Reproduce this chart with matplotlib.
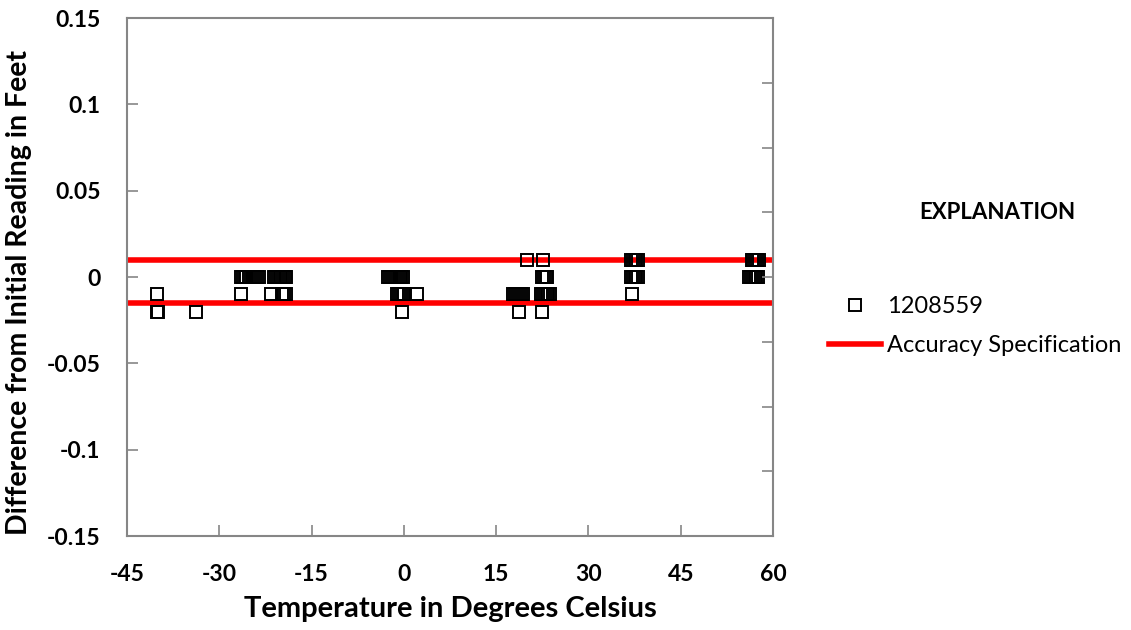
import matplotlib
matplotlib.use("Agg")
import matplotlib.pyplot as plt

plt.rcParams['font.family'] = ['Lato', 'DejaVu Sans']

# temperature (deg C) and difference from initial reading (feet)
TEMPS = [
    -40.2, -40.2, -40.0, -33.8,
    -26.5, -26.2, -25.9, -25.6, -25.2, -24.9, -24.5, -24.2, -23.9, -23.6,
    -26.5, -21.6,
    -21.1, -20.8, -20.5, -20.2, -19.9, -19.6, -19.3, -19.1,
    -19.8, -19.5, -19.2,
    -2.5, -2.2, -1.9, -1.6, -1.3, -1.0, -0.7, -0.4, -0.2,
    -1.1, -0.8, -0.5, -0.2, 0.1, 2.1, -0.35,
    17.8, 18.1, 18.4, 18.7, 19.0, 19.3, 18.7, 20.0,
    22.3, 22.6, 22.9, 23.2, 23.5, 23.8, 22.5,
    22.5, 22.8, 23.1, 23.3, 22.6,
    36.9, 37.2, 37.5, 37.8, 38.1,
    36.9, 37.2, 37.5, 37.8, 38.1, 37.0,
    56.5, 56.8, 57.1, 57.4, 57.7,
    56.1, 56.4, 56.7, 57.0, 57.3, 57.6,
]
DIFFS = [
    -0.01, -0.02, -0.02, -0.02,
    0, 0, 0, 0, 0, 0, 0, 0, 0, 0,
    -0.01, -0.01,
    0, 0, 0, 0, 0, 0, 0, 0,
    -0.01, -0.01, -0.01,
    0, 0, 0, 0, 0, 0, 0, 0, 0,
    -0.01, -0.01, -0.01, -0.01, -0.01, -0.01, -0.02,
    -0.01, -0.01, -0.01, -0.01, -0.01, -0.01, -0.02, 0.01,
    -0.01, -0.01, -0.01, -0.01, -0.01, -0.01, -0.02,
    0, 0, 0, 0, 0.01,
    0.01, 0.01, 0.01, 0.01, 0.01,
    0, 0, 0, 0, 0, -0.01,
    0.01, 0.01, 0.01, 0.01, 0.01,
    0, 0, 0, 0, 0, 0,
]

SPEC_UPPER = 0.01
SPEC_LOWER = -0.015
X_RANGE = (-45, 60)
X_TICKS = list(range(-45, 61, 15))
Y_TICKS = [-0.15, -0.1, -0.05, 0, 0.05, 0.1, 0.15]
Y_TICK_LABELS = ["-0.15", "-0.1", "-0.05", "0", "0.05", "0.1", "0.15"]

fig = plt.figure(figsize=(11.31, 6.30), dpi=100)
ax = fig.add_axes([0.1123, 0.1492, 0.5712, 0.8222])

pts, = ax.plot(TEMPS, DIFFS, linestyle="none", marker="s", markersize=8,
               markerfacecolor="none", markeredgecolor="black",
               markeredgewidth=1.4, label="1208559", zorder=3)
spec, = ax.plot(X_RANGE, [SPEC_UPPER, SPEC_UPPER], color="#ff0000", lw=4,
                label="Accuracy Specification", zorder=2)
ax.plot(X_RANGE, [SPEC_LOWER, SPEC_LOWER], color="#ff0000", lw=4, zorder=2)

ax.set_xlim(*X_RANGE)
ax.set_ylim(-0.15, 0.15)
ax.set_xticks(X_TICKS)
ax.set_xticklabels([str(t) for t in X_TICKS], fontweight="bold", fontsize=16.5)
ax.set_yticks(Y_TICKS)
ax.set_yticklabels(Y_TICK_LABELS, fontweight="bold", fontsize=16.5)

for s in ax.spines.values():
    s.set_color("#868686")
    s.set_linewidth(1.5)
ax.tick_params(direction="in", length=8, width=1.2, color="#868686")
ax.tick_params(axis="x", pad=20)
ax.tick_params(axis="y", pad=19)

# right side tick marks (8 divisions) like the original secondary axis
ax2 = ax.twinx()
ax2.set_ylim(-0.15, 0.15)
ax2.set_yticks([-0.15 + i * 0.0375 for i in range(9)])
ax2.tick_params(direction="in", length=8, width=1.2, color="#868686",
                labelright=False)
for s in ax2.spines.values():
    s.set_visible(False)

ax.set_xlabel("Temperature in Degrees Celsius", fontsize=21,
              fontweight="bold", labelpad=8)
ax.set_ylabel("Difference from Initial Reading in Feet", fontsize=20.5,
              fontweight="bold")
ax.yaxis.set_label_coords(-0.147, 0.47)

fig.text(0.8815, 0.662, "EXPLANATION", fontsize=16, fontweight="bold",
         ha="center", va="center")
fig.legend(handles=[pts, spec], loc="upper left",
           bbox_to_anchor=(0.725, 0.545), frameon=False, fontsize=17,
           handlelength=2.2, handletextpad=0.25, labelspacing=0.75,
           borderaxespad=0)

fig.savefig("out.png", dpi=100)
